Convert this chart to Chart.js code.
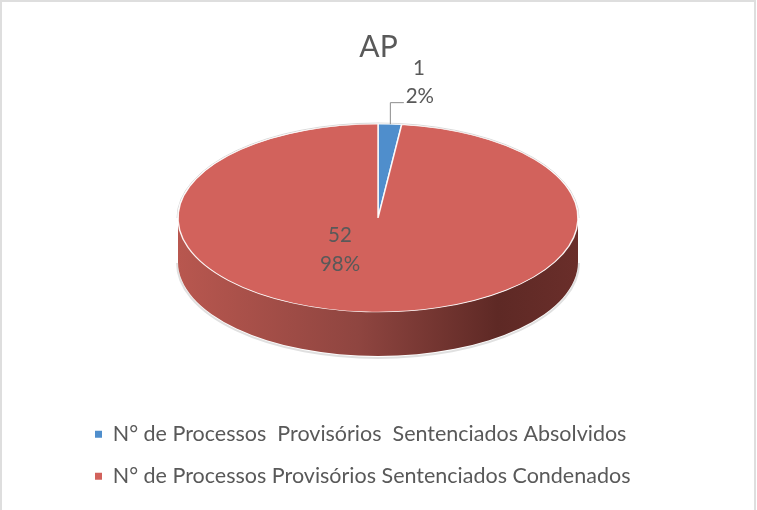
<!DOCTYPE html>
<html><head><meta charset="utf-8">
<script src="https://cdn.jsdelivr.net/npm/chart.js@4"></script>
<style>html,body{margin:0;padding:0;background:#fff}#wrap{width:757px;height:510px;position:relative}</style>
</head><body><div id="wrap"><canvas id="c" width="757" height="510"></canvas></div>
<script>
const chartTitle = 'AP';
const categories = ['N° de Processos  Provisórios  Sentenciados Absolvidos', 'N° de Processos Provisórios Sentenciados Condenados'];
const values = [1, 52];
const colors = ['#4f8ecc', '#d2625c'];
const sideStops = [
  [[0,'#3f78b0'],[1,'#274c70']],
  [[0,'#b8574f'],[0.45,'#8f4540'],[0.8,'#5e2925'],[1,'#6a2e2a']]
];

const GEOM = {cx: 378, cy: 218, ry: 94, depth: 44};
const FONT = 'Lato, "Open Sans", sans-serif';

const frame = {
  id: 'frame',
  beforeDraw(chart) {
    const ctx = chart.ctx;
    ctx.save();
    ctx.fillStyle = '#fff';
    ctx.fillRect(0, 0, chart.width, chart.height);
    ctx.fillStyle = '#dedede';
    ctx.fillRect(0, 0, chart.width - 2, 2);
    ctx.fillRect(0, 0, 2, chart.height);
    ctx.fillRect(chart.width - 3, 0, 2, chart.height);
    ctx.restore();
  }
};

const pie3d = {
  id: 'pie3d',
  beforeDatasetsDraw(chart) {
    const arcs = chart.getDatasetMeta(0).data;
    if (!arcs.length) return;
    const a0 = arcs[0];
    const rx = a0.outerRadius;
    const ctx = chart.ctx;
    const {cx, cy, ry, depth} = GEOM;
    ctx.save();
    ctx.beginPath();
    ctx.ellipse(cx, cy + depth + 1, rx + 1, ry + 1, 0, 0, Math.PI, false);
    ctx.strokeStyle = 'rgba(0,0,0,0.12)';
    ctx.lineWidth = 2;
    ctx.stroke();
    ctx.beginPath();
    ctx.ellipse(cx, cy, rx + 1, ry + 1, 0, Math.PI, 2 * Math.PI, false);
    ctx.strokeStyle = 'rgba(0,0,0,0.15)';
    ctx.lineWidth = 1;
    ctx.stroke();
    arcs.forEach((arc, i) => {
      let s = arc.startAngle, e = arc.endAngle;
      while (s < 0) { s += 2 * Math.PI; e += 2 * Math.PI; }
      [[0, Math.PI], [2 * Math.PI, 3 * Math.PI]].forEach(([lo, hi]) => {
        const a = Math.max(s, lo), b = Math.min(e, hi);
        if (b <= a) return;
        const g = ctx.createLinearGradient(cx - rx, 0, cx + rx, 0);
        sideStops[i].forEach(([p, c]) => g.addColorStop(p, c));
        ctx.beginPath();
        ctx.ellipse(cx, cy, rx, ry, 0, a, b, false);
        ctx.ellipse(cx, cy + depth, rx, ry, 0, b, a, true);
        ctx.closePath();
        ctx.fillStyle = g;
        ctx.fill();
      });
    });
    ctx.restore();
    ctx.save();
    ctx.translate(cx, cy);
    ctx.scale(1, ry / rx);
    ctx.translate(-a0.x, -a0.y);
  },
  afterDatasetsDraw(chart) {
    chart.ctx.restore();
  }
};

const pieLabels = {
  id: 'pieLabels',
  afterDraw(chart) {
    const arcs = chart.getDatasetMeta(0).data;
    if (!arcs.length) return;
    const ctx = chart.ctx;
    const rx = arcs[0].outerRadius;
    const {cx, cy, ry} = GEOM;
    const total = values.reduce((a, b) => a + b, 0);
    ctx.save();
    ctx.font = '20.5px ' + FONT;
    ctx.fillStyle = '#595959';
    ctx.textAlign = 'center';
    ctx.textBaseline = 'middle';
    arcs.forEach((arc, i) => {
      const mid = (arc.startAngle + arc.endAngle) / 2;
      const lines = [String(values[i]), Math.round(values[i] / total * 100) + '%'];
      if (values[i] / total < 0.1) {
        const px = cx + rx * Math.cos(mid), py = cy + ry * Math.sin(mid);
        ctx.strokeStyle = '#8c8c8c';
        ctx.lineWidth = 1;
        ctx.beginPath();
        ctx.moveTo(px + 0.5, py);
        ctx.lineTo(px + 0.5, py - 21.5);
        ctx.lineTo(px + 14, py - 21.5);
        ctx.stroke();
        ctx.fillText(lines[0], px + 29, py - 56);
        ctx.fillText(lines[1], px + 30, py - 28);
      } else {
        ctx.fillText(lines[0], cx - 38, cy + 17);
        ctx.fillText(lines[1], cx - 38, cy + 46);
      }
    });
    ctx.restore();
  }
};

new Chart(document.getElementById('c'), {
  type: 'pie',
  data: {
    labels: categories,
    datasets: [{
      data: values,
      backgroundColor: colors,
      borderColor: 'rgba(255,255,255,0.9)',
      borderWidth: 1.5,
      radius: 200,
      clip: false
    }]
  },
  options: {
    responsive: false,
    animation: false,
    events: [],
    layout: {padding: {left: 74.5, right: 74.5, top: 0, bottom: 13}},
    plugins: {
      tooltip: {enabled: false},
      title: {
        display: true,
        text: chartTitle,
        color: '#595959',
        font: {family: FONT, size: 30, weight: 'normal'},
        padding: {top: 29, bottom: 10}
      },
      legend: {
        position: 'bottom',
        align: 'start',
        labels: {
          color: '#595959',
          font: {family: FONT, size: 21.5},
          boxWidth: 7,
          boxHeight: 7,
          padding: 20.5,
          generateLabels(chart) {
            return Chart.overrides.pie.plugins.legend.labels.generateLabels(chart)
              .map(l => Object.assign(l, {lineWidth: 0}));
          }
        }
      }
    }
  },
  plugins: [frame, pie3d, pieLabels]
});
</script>
</body></html>
